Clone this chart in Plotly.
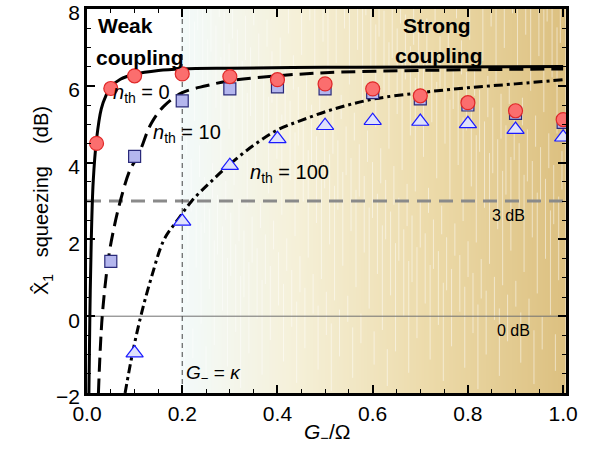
import plotly.graph_objects as go
import numpy as np

# ---- data ----
pts_x0 = [0.02, 0.05, 0.1, 0.2, 0.3, 0.4, 0.5, 0.6, 0.7, 0.8, 0.9, 1.0]
pts_y0 = [4.5, 5.93, 6.26, 6.31, 6.24, 6.16, 6.05, 5.92, 5.74, 5.56, 5.35, 5.12]

pts_x10 = [0.05, 0.1, 0.2, 0.3, 0.4, 0.5, 0.6, 0.7, 0.8, 0.9, 1.0]
pts_y10 = [1.43, 4.16, 5.61, 5.92, 5.97, 5.92, 5.82, 5.66, 5.5, 5.28, 5.05]

pts_x100 = [0.1, 0.2, 0.3, 0.4, 0.5, 0.6, 0.7, 0.8, 0.9, 1.0]
pts_y100 = [-0.96, 2.47, 3.92, 4.62, 4.96, 5.09, 5.07, 5.01, 4.86, 4.66]

cur_x0 = [0.004, 0.006, 0.009, 0.013, 0.02, 0.03, 0.04, 0.05, 0.07, 0.1, 0.15, 0.2, 0.3, 0.5, 0.7, 1.0]
cur_y0 = [-2.0, 0.0, 2.0, 3.5, 4.6, 5.4, 5.75, 5.97, 6.17, 6.3, 6.4, 6.44, 6.46, 6.48, 6.49, 6.5]

cur_x10 = [0.024, 0.032, 0.045, 0.055, 0.07, 0.09, 0.108, 0.134, 0.16, 0.2, 0.25, 0.3, 0.4, 0.5, 0.7, 1.0]
cur_y10 = [-2.0, 0.0, 1.5, 2.2, 3.0, 3.8, 4.2, 5.0, 5.45, 5.82, 6.0, 6.13, 6.26, 6.34, 6.4, 6.44]

cur_x100 = [0.08, 0.095, 0.113, 0.135, 0.162, 0.19, 0.22, 0.26, 0.304, 0.35, 0.4, 0.45, 0.52, 0.6, 0.7, 0.8, 0.9, 1.0]
cur_y100 = [-2.0, -1.0, 0.0, 1.0, 2.0, 2.5, 3.0, 3.5, 4.0, 4.45, 4.85, 5.1, 5.4, 5.65, 5.82, 5.95, 6.05, 6.16]

XMAX = 1.006
fig = go.Figure()

# background gradient (strong coupling region)
gx = np.linspace(0.2, XMAX, 120)
fig.add_trace(go.Heatmap(
    x=gx, y=[-2, 8], z=[list(gx), list(gx)],
    colorscale=[[0, "#f3fafa"], [0.3, "#f5f0d8"], [0.65, "#ecdaa9"], [1, "#dcc080"]],
    showscale=False, hoverinfo="skip", zsmooth="best"))

# decorative white streak texture (deterministic pattern)
phi = 0.6180339887
sx, sy = [], []
for k in range(230):
    xx = 0.205 + k * (XMAX - 0.21) / 230
    f1 = (k * phi) % 1.0
    f2 = (k * 0.7548776662 + 0.3) % 1.0
    y0 = -2 + 10 * f1
    ln = 0.6 + 2.4 * f2
    sx += [xx, xx, None]
    sy += [y0, min(8, y0 + ln), None]
fig.add_trace(go.Scatter(x=sx, y=sy, mode="lines", line=dict(color="white", width=1),
                         opacity=0.5, hoverinfo="skip"))

# reference lines
fig.add_trace(go.Scatter(x=[0, XMAX], y=[3, 3], mode="lines",
                         line=dict(color="#8a8a8a", width=3, dash="14px,8px"), hoverinfo="skip"))
fig.add_trace(go.Scatter(x=[0, XMAX], y=[0, 0], mode="lines",
                         line=dict(color="#707070", width=1), hoverinfo="skip"))
fig.add_trace(go.Scatter(x=[0.2, 0.2], y=[-2, 8], mode="lines",
                         line=dict(color="#444444", width=1, dash="5px,4px"), hoverinfo="skip"))

# curves
fig.add_trace(go.Scatter(x=cur_x0, y=cur_y0, mode="lines", line=dict(color="black", width=3, shape="spline")))
fig.add_trace(go.Scatter(x=cur_x10, y=cur_y10, mode="lines",
                         line=dict(color="black", width=3, dash="14px,7px", shape="spline")))
fig.add_trace(go.Scatter(x=cur_x100, y=cur_y100, mode="lines",
                         line=dict(color="black", width=3, dash="9px,4px,3px,4px", shape="spline")))

# points
fig.add_trace(go.Scatter(x=pts_x100, y=pts_y100, mode="markers",
                         marker=dict(symbol="triangle-up", size=15, color="#dfe1fb",
                                     line=dict(color="#1a1aff", width=1.2))))
fig.add_trace(go.Scatter(x=pts_x10, y=pts_y10, mode="markers",
                         marker=dict(symbol="square", size=12, color="#b4b6ee",
                                     line=dict(color="#2a2a7a", width=1.2))))
fig.add_trace(go.Scatter(x=pts_x0, y=pts_y0, mode="markers",
                         marker=dict(symbol="circle", size=14, color="#fb6e6e",
                                     line=dict(color="#e02828", width=1.2))))

font = "Liberation Sans, Arial, sans-serif"
ann = []
def add_text(x, y, t, size=20, bold=False, xanchor="center"):
    ann.append(dict(x=x, y=y, xref="x", yref="y", text=("<b>%s</b>" % t) if bold else t,
                    showarrow=False, font=dict(size=size, color="black", family=font), xanchor=xanchor))

add_text(0.018, 7.58, "Weak", 21, True, xanchor="left")
add_text(0.014, 6.75, "coupling", 21, True, xanchor="left")
add_text(0.735, 7.58, "Strong", 21, True)
add_text(0.74, 6.8, "coupling", 21, True)
add_text(0.115, 5.8, "<i>n</i><sub>th</sub> = 0", 20)
add_text(0.21, 4.75, "<i>n</i><sub>th</sub> = 10", 20)
add_text(0.425, 3.72, "<i>n</i><sub>th</sub> = 100", 20)
add_text(0.885, 2.62, "3 dB", 16)
add_text(0.895, -0.38, "0 dB", 16)
add_text(0.203, -1.5, "<i>G</i><sub>−</sub> = <i>κ</i>", 19, xanchor="left")

# axis titles
ann.append(dict(x=0.5, y=-0.143, xref="paper", yref="paper", text="<i>G</i><sub>−</sub>/Ω",
                showarrow=False, font=dict(size=21, family=font, color="black")))
ann.append(dict(x=-0.123, y=0.5, xref="paper", yref="paper", text="X̂<sub>1</sub>   squeezing    (dB)",
                textangle=-90, showarrow=False, font=dict(size=20, family=font, color="black")))

fig.update_layout(
    width=590, height=465, margin=dict(l=87, r=24, t=9, b=72),
    paper_bgcolor="white", plot_bgcolor="white", showlegend=False,
    font=dict(family=font, size=21, color="black"),
    annotations=ann,
    xaxis=dict(range=[0, XMAX], tickvals=[0, 0.2, 0.4, 0.6, 0.8, 1.0],
               ticktext=["0.0", "0.2", "0.4", "0.6", "0.8", "1.0"], automargin=False,
               ticks="inside", ticklen=8, tickwidth=1.5, tickcolor="black",
               minor=dict(dtick=0.05, tick0=0, ticks="inside", ticklen=4, tickcolor="black", tickwidth=1.2),
               showline=True, linecolor="black", linewidth=2.5, mirror="ticks",
               showgrid=False, zeroline=False, ticklabeloverflow="allow"),
    yaxis=dict(range=[-2, 8], tickvals=[-2, 0, 2, 4, 6, 8], ticktext=["−2", "0", "2", "4", "6", "8"],
               automargin=False, ticklabelshift=4,
               ticks="inside", ticklen=8, tickwidth=1.5, tickcolor="black",
               minor=dict(dtick=0.5, tick0=0, ticks="inside", ticklen=4, tickcolor="black", tickwidth=1.2),
               showline=True, linecolor="black", linewidth=2.5, mirror="ticks",
               showgrid=False, zeroline=False, ticklabeloverflow="allow"),
)

fig.write_html("out.html", config={"displayModeBar": False},
               post_script="document.body.style.margin='0';document.body.style.padding='0';")
